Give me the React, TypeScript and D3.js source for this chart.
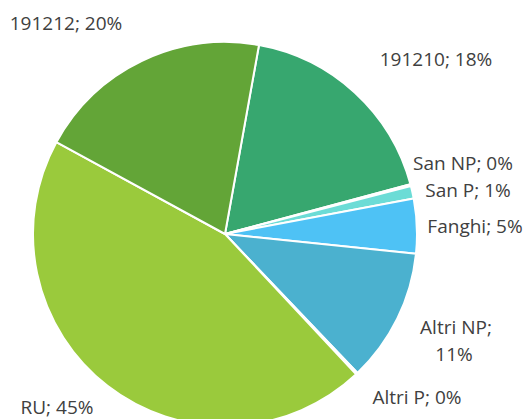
import React from "react";
import * as d3 from "d3";

const categories = ["191210", "San NP", "San P", "Fanghi", "Altri NP", "Altri P", "RU", "191212"];
const values = [18.0, 0.15, 1.05, 4.6, 11.25, 0.15, 44.9, 19.9];
const percentLabels = ["18%", "0%", "1%", "5%", "11%", "0%", "45%", "20%"];
const colors = ["#37A76F", "#3FB8A6", "#6CDCD6", "#4EC2F5", "#4BB1CF", "#5BA8C8", "#9ACA3C", "#63A537"];
// label layout (center x, baseline y, lines)
const labelLayout: { x: number; y: number; lines: number }[] = [
  { x: 436, y: 66, lines: 1 },
  { x: 463, y: 170, lines: 1 },
  { x: 468, y: 197, lines: 1 },
  { x: 475, y: 233, lines: 1 },
  { x: 456, y: 334, lines: 2 },
  { x: 417, y: 404, lines: 1 },
  { x: 57, y: 414, lines: 1 },
  { x: 66, y: 30, lines: 1 },
];

const W = 525;
const H = 419;
const cx = 225;
const cy = 234;
const R = 192;
const startDeg = 10.2;

export default function App() {
  const start = (startDeg * Math.PI) / 180;
  const pie = d3
    .pie<number>()
    .sort(null)
    .value((d) => d)
    .startAngle(start)
    .endAngle(start + 2 * Math.PI);
  const arcs = pie(values);
  const arcGen = d3.arc<d3.PieArcDatum<number>>().innerRadius(0).outerRadius(R);

  return (
    <svg
      width={W}
      height={H}
      style={{ position: "absolute", left: 0, top: 0, background: "#fff" }}
      fontFamily="'Open Sans', sans-serif"
    >
      <g transform={`translate(${cx},${cy})`}>
        {arcs.map((a, i) => (
          <path key={i} d={arcGen(a) || ""} fill={colors[i]} stroke="#fff" strokeWidth={2} strokeLinejoin="round" />
        ))}
      </g>
      {categories.map((c, i) => {
        const l = labelLayout[i];
        if (l.lines === 2) {
          return (
            <text key={c} x={l.x} textAnchor="middle" fontSize={19} fill="#404040">
              <tspan x={l.x} y={l.y}>{`${c};`}</tspan>
              <tspan x={l.x - 2} y={l.y + 27}>{percentLabels[i]}</tspan>
            </text>
          );
        }
        return (
          <text key={c} x={l.x} y={l.y} textAnchor="middle" fontSize={19} fill="#404040">
            {`${c}; ${percentLabels[i]}`}
          </text>
        );
      })}
    </svg>
  );
}
